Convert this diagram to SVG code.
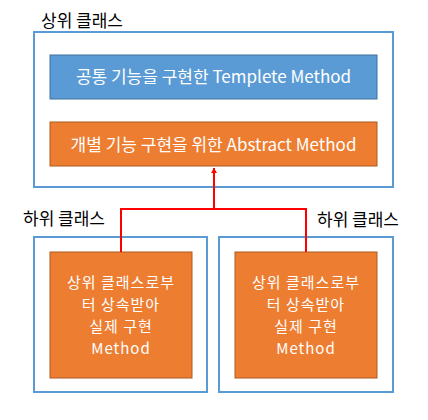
<svg xmlns="http://www.w3.org/2000/svg" width="428" height="420" viewBox="0 0 428 420">
<style>
.outer{fill:#fff;stroke:#5B9BD5;stroke-width:2}
.blue{fill:#5B9BD5;stroke:#41719C;stroke-width:1}
.orange{fill:#ED7D31;stroke:#AE5A21;stroke-width:1}
text{font-family:"Noto Sans CJK KR","Noto Sans",sans-serif;font-size:17px}
.w{fill:#fff;text-anchor:middle}
.k{fill:#000}
.m{font-size:15px;letter-spacing:1px}
.conn{fill:none;stroke:#FF0000;stroke-width:2}
</style>
<defs>
<marker id="ah" markerWidth="6" markerHeight="6" refX="5" refY="3" orient="auto" markerUnits="userSpaceOnUse">
<path d="M0,0 L5,3 L0,6 z" fill="#FF0000"/>
</marker>
</defs>
<rect width="428" height="420" fill="#fff"/>
<g id="super">
<text class="k" x="41" y="27">상위 클래스</text>
<rect class="outer" x="34" y="32" width="359" height="155"/>
</g>
<g id="template">
<rect class="blue" x="50" y="55" width="327" height="44"/>
<text class="w" x="213.5" y="83">공통 기능을 구현한 Templete Method</text>
</g>
<g id="abstract">
<rect class="orange" x="50" y="122" width="327" height="44"/>
<text class="w" x="213.5" y="151">개별 기능 구현을 위한 Abstract Method</text>
</g>
<g id="sub1">
<text class="k" x="23" y="225">하위 클래스</text>
<rect class="outer" x="34" y="237" width="173" height="155"/>
<rect class="orange" x="50" y="252" width="142" height="126"/>
<text class="w m" x="121" y="288"><tspan x="121" y="288">상위 클래스로부</tspan><tspan x="121" y="310">터 상속받아</tspan><tspan x="121" y="332">실제 구현</tspan><tspan x="121" y="354">Method</tspan></text>
</g>
<g id="sub2">
<text class="k" x="317" y="226">하위 클래스</text>
<rect class="outer" x="219" y="237" width="174" height="155"/>
<rect class="orange" x="235" y="252" width="142" height="126"/>
<text class="w m" x="306" y="288"><tspan x="306" y="288">상위 클래스로부</tspan><tspan x="306" y="310">터 상속받아</tspan><tspan x="306" y="332">실제 구현</tspan><tspan x="306" y="354">Method</tspan></text>
</g>
<g id="connectors">
<path class="conn" d="M121,252 V209 H306 V252"/>
<path class="conn" d="M214,209 V168" marker-end="url(#ah)"/>
</g>
</svg>
